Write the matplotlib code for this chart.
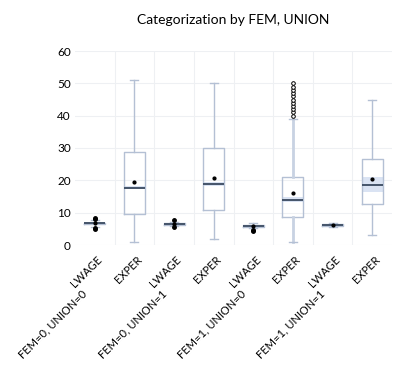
import matplotlib
matplotlib.use("Agg")
import matplotlib.pyplot as plt
import matplotlib.transforms as mtransforms

plt.rcParams['font.family'] = ['Lato', 'DejaVu Sans']

title = "Categorization by FEM, UNION"
groups = ["FEM=0, UNION=0", "FEM=0, UNION=1", "FEM=1, UNION=0", "FEM=1, UNION=1"]
variables = ["LWAGE", "EXPER", "LWAGE", "EXPER", "LWAGE", "EXPER", "LWAGE", "EXPER"]

whislo = [5.7, 1.0, 5.8, 2.0, 5.2, 1.0, 5.5, 3.0]
q1 = [6.5, 9.5, 6.3, 10.8, 5.7, 8.8, 5.8, 12.6]
med = [6.7, 17.6, 6.5, 18.8, 5.9, 13.8, 6.1, 18.7]
q3 = [6.9, 28.8, 6.7, 30.0, 6.2, 21.0, 6.4, 26.5]
whishi = [7.7, 51.0, 7.1, 50.0, 6.9, 39.0, 6.9, 45.0]
means = [6.75, 19.6, 6.6, 20.7, 5.9, 16.0, 6.2, 20.3]
ci_lo = [6.6, 17.2, 6.4, 18.3, 5.8, 13.2, 5.8, 16.4]
ci_hi = [6.8, 18.1, 6.6, 19.6, 6.0, 14.8, 6.4, 21.0]
fliers = [[8.0, 8.3, 5.0, 5.3], [], [7.6, 5.5], [], [4.6, 4.4],
          [40, 41, 42, 43, 44, 45, 46, 47, 48, 49, 50], [], []]

edge = "#b4c0d4"
medc = "#44546a"
band = "#dae3f3"

fig = plt.figure(figsize=(4.07, 3.73), dpi=100)
ax = fig.add_axes([75/407, (373-245)/373, (392-75)/407, (245-51)/373])

positions = list(range(1, len(variables) + 1))
width = 0.53

stats = []
for i in range(len(variables)):
    stats.append(dict(whislo=whislo[i], q1=q1[i], med=med[i], q3=q3[i],
                      whishi=whishi[i], mean=means[i], fliers=fliers[i]))

ax.bar(positions, [h - l for h, l in zip(ci_hi, ci_lo)], bottom=ci_lo,
       width=width, color=band, zorder=2)

bp = ax.bxp(stats, positions=positions, widths=width, showmeans=True,
            patch_artist=False, manage_ticks=False,
            boxprops=dict(color=edge, linewidth=1.0),
            whiskerprops=dict(color=edge, linewidth=1.0),
            capprops=dict(color=edge, linewidth=1.0),
            medianprops=dict(color=medc, linewidth=1.4),
            meanprops=dict(marker='o', markerfacecolor='black', markeredgecolor='black', markersize=2),
            flierprops=dict(marker='o', markerfacecolor='black', markeredgecolor='black', markersize=2.5),
            capwidths=0.2)
for z in ['boxes', 'whiskers', 'caps', 'medians', 'means', 'fliers']:
    for a in bp[z]:
        a.set_zorder(3)
# open-circle outliers for EXPER of FEM=1, UNION=0
bp['fliers'][5].set_markerfacecolor('white')
bp['fliers'][5].set_markersize(2.6)
bp['fliers'][5].set_markeredgewidth(0.7)
for k in (10, 11):
    bp['whiskers'][k].set_linewidth(2.0)
    bp['whiskers'][k].set_color("#c8d2e2")

ax.set_xlim(0.5, len(variables) + 0.5)
ax.set_ylim(0, 60)
ax.set_yticks([0, 10, 20, 30, 40, 50, 60])
ax.set_xticks([p + 0.5 for p in positions[:-1]], minor=False)
ax.set_xticklabels([])
ax.tick_params(axis='both', length=0)
ax.tick_params(axis='y', labelsize=8.5, pad=3)
ax.grid(True, color="#eef0f3", linewidth=0.8, zorder=0)
ax.set_axisbelow(True)
for s in ax.spines.values():
    s.set_visible(False)

trans = mtransforms.blended_transform_factory(ax.transData, ax.transAxes)
for p, v in zip(positions, variables):
    ax.text(p + 0.14, -0.068, v, transform=trans, rotation=45, rotation_mode='anchor',
            ha='right', va='center', fontsize=8)
for gi, g in enumerate(groups):
    gx = positions[2 * gi]
    ax.text(gx - 0.24, -0.24, g, transform=trans, rotation=45, rotation_mode='anchor',
            ha='right', va='center', fontsize=8)

fig.text((75 + 392) / 2 / 407, 1 - 20 / 373, title, ha='center', va='center', fontsize=10)

fig.savefig("out.png", dpi=100)
